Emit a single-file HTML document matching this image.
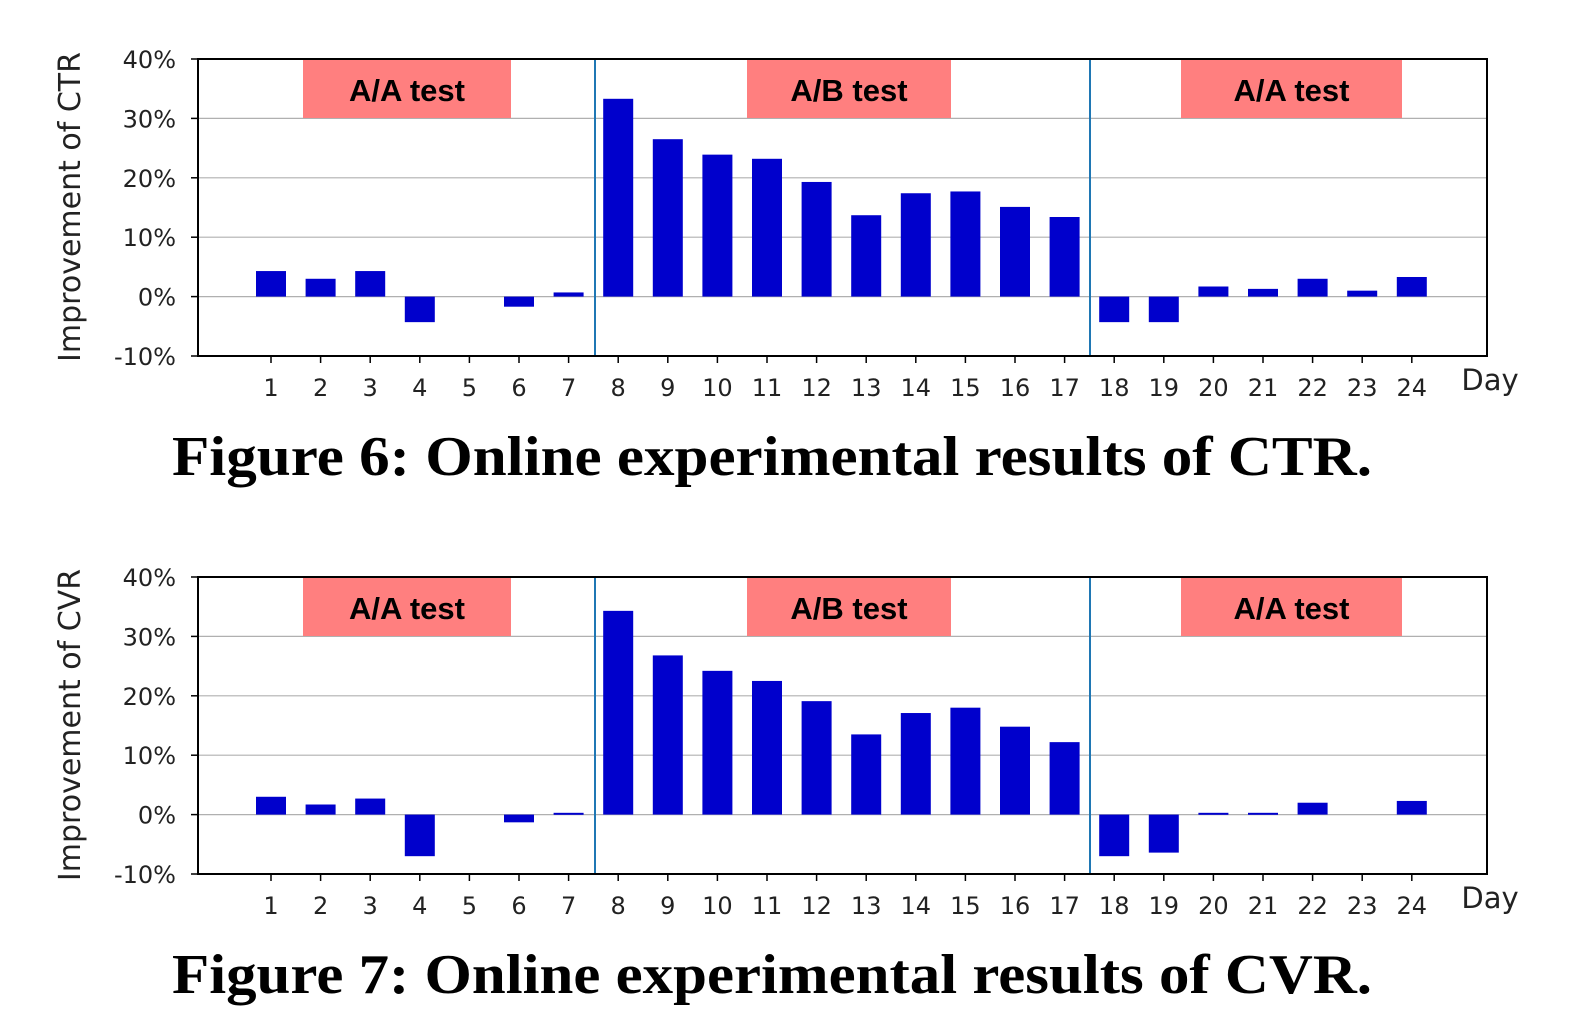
<!DOCTYPE html>
<html><head><meta charset="utf-8"><style>
body{margin:0;background:#fff;}
svg{display:block;}
</style></head><body>
<svg id="s" width="1570" height="1022" xmlns="http://www.w3.org/2000/svg" font-family="'DejaVu Sans', 'Liberation Sans', sans-serif"></svg>
<script>
const s=document.getElementById('s');
const NS='http://www.w3.org/2000/svg';
function el(t,a,txt){const e=document.createElementNS(NS,t);for(const k in a)e.setAttribute(k,a[k]);if(txt!==undefined)e.textContent=txt;s.appendChild(e);return e;}
const ctr=[4.3,3.0,4.3,-4.3,0,-1.7,0.7,33.3,26.5,23.9,23.2,19.3,13.7,17.4,17.7,15.1,13.4,-4.3,-4.3,1.7,1.3,3.0,1.0,3.3];
const cvr=[3.0,1.7,2.7,-7,0,-1.3,0.3,34.3,26.8,24.2,22.5,19.1,13.5,17.1,18.0,14.8,12.2,-7,-6.4,0.3,0.3,2.0,0,2.3];
function chart(top,data,ylab,cap){
 const L=198,R=1487,T=top,B=top+297,sc=5.94;
 const y=v=>T+(40-v)*sc;
 for(let v=-10;v<=40;v+=10){
  el('line',{x1:L,x2:R,y1:y(v),y2:y(v),stroke:'#b0b0b0','stroke-width':1.2});
  el('line',{x1:L-7,x2:L,y1:y(v),y2:y(v),stroke:'#000','stroke-width':1.5});
  el('text',{x:176,y:y(v)+9,'text-anchor':'end','font-size':24,fill:'#222'},v+'%');
 }
 [[303,511,'A/A test'],[747,951,'A/B test'],[1181,1402,'A/A test']].forEach(b=>{
  el('rect',{x:b[0],y:T+1,width:b[1]-b[0],height:58,fill:'#ff7f7f'});
  el('text',{x:(b[0]+b[1])/2,y:T+42,'text-anchor':'middle','font-size':31,'font-weight':'bold','font-family':"'Liberation Sans',sans-serif",fill:'#000'},b[2]);
 });
 data.forEach((v,i)=>{
  const cx=271+i*49.6;
  if(v!==0){const y0=y(0),y1=y(v);el('rect',{x:cx-15,y:Math.min(y0,y1),width:30,height:Math.max(Math.abs(y1-y0),2),fill:'#0000cc'});}
  el('line',{x1:cx,x2:cx,y1:B,y2:B+7,stroke:'#000','stroke-width':1.5});
  el('text',{x:cx,y:B+40,'text-anchor':'middle','font-size':24,fill:'#222'},i+1);
 });
 [595,1090].forEach(x=>el('line',{x1:x,x2:x,y1:T,y2:B,stroke:'#1f77b4','stroke-width':2}));
 el('rect',{x:L,y:T,width:R-L,height:B-T,fill:'none',stroke:'#000','stroke-width':2});
 el('text',{x:1490,y:B+34,'text-anchor':'middle','font-size':29,fill:'#222'},'Day');
 el('text',{x:0,y:0,'text-anchor':'middle','font-size':30,fill:'#222',transform:`translate(80,${T+148}) rotate(-90)`},ylab);
 el('text',{x:172,y:B+119,'font-size':56,'font-weight':'bold','font-family':"'Liberation Serif',serif",fill:'#000',textLength:1200,lengthAdjust:'spacingAndGlyphs'},cap);
}
chart(59,ctr,'Improvement of CTR','Figure 6: Online experimental results of CTR.');
chart(577,cvr,'Improvement of CVR','Figure 7: Online experimental results of CVR.');
</script>
</body></html>
